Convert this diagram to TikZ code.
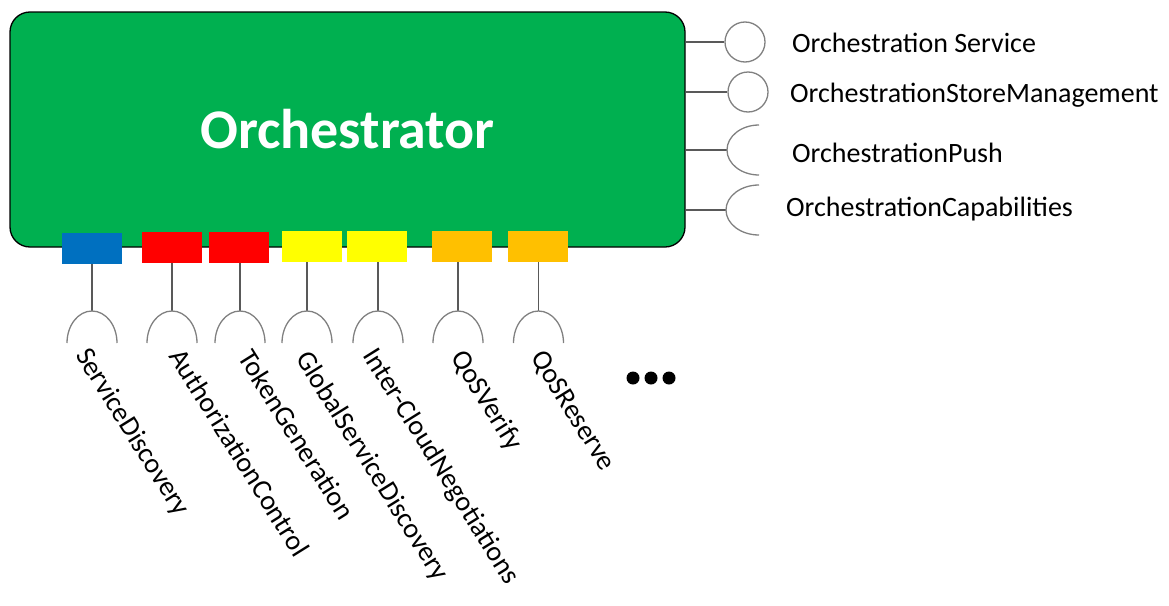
\documentclass[tikz,border=0pt]{standalone}
\usepackage{fontspec}
\setmainfont{Carlito}
\usetikzlibrary{positioning}
\definecolor{orcgreen}{HTML}{00B050}
\definecolor{portblue}{HTML}{0070C0}
\definecolor{portred}{HTML}{FF0000}
\definecolor{portyellow}{HTML}{FFFF00}
\definecolor{portorange}{HTML}{FFC000}
\definecolor{stemgray}{HTML}{595959}
\definecolor{arcgray}{HTML}{808080}
\tikzset{
  port/.style={rectangle, minimum width=60pt, minimum height=31pt, inner sep=0pt},
  ball/.style={circle, draw=arcgray, line width=1.3pt, minimum size=40pt, inner sep=0pt},
  stem/.style={draw=stemgray, line width=1.3pt},
  socketarc/.style={draw=arcgray, line width=1.3pt},
  svclabel/.style={anchor=base west, inner sep=0pt, font=\fontsize{28}{32}\selectfont},
  portlabel/.style={anchor=base west, inner sep=0pt, rotate=-58, font=\fontsize{28}{32}\selectfont}
}
\begin{document}
\begin{tikzpicture}[x=1pt, y=-1pt]
   \useasboundingbox (0,0) rectangle (1169,605);
   \node[draw=black, fill=orcgreen, rounded corners=20pt, line width=1.3pt,
         minimum width=675pt, minimum height=235pt, text=white,
         font=\bfseries\fontsize{56}{60}\selectfont] (orc) at (347.5,129.5) {Orchestrator};
   \node[ball] (b1) at (745,42) {};
   \node[ball] (b2) at (748,92) {};
   \coordinate (c3) at (727,150);
   \coordinate (c4) at (726,210);
   \draw[stem] (orc.east |- b1) -- (b1.west);
   \draw[stem] (orc.east |- b2) -- (b2.west);
   \draw[stem] (orc.east |- c3) -- (c3);
   \draw[stem] (orc.east |- c4) -- (c4);
   \draw[socketarc] (c3) ++(32pt,25pt) arc[start angle=90, end angle=270, x radius=32pt, y radius=25pt];
   \draw[socketarc] (c4) ++(33pt,25pt) arc[start angle=90, end angle=270, x radius=33pt, y radius=25pt];
   \node[svclabel] (l1) at (792,52) {Orchestration Service};
   \node[svclabel] (l2) at (790,102) {OrchestrationStoreManagement};
   \node[svclabel] (l3) at (792,162) {OrchestrationPush};
   \node[svclabel] (l4) at (786,216) {OrchestrationCapabilities};
   \begin{scope}[every node/.style={port}]
    \node (p1) at (92,248.5) [fill=portblue] {};
    \node (p2) at (172,247.5) [fill=portred] {};
    \node (p3) at (239,247.5) [fill=portred] {};
    \node (p4) at (311.5,246.5) [fill=portyellow] {};
    \node (p5) at (377,246.5) [fill=portyellow] {};
    \node (p6) at (462,246.5) [fill=portorange] {};
    \node (p7) at (538,246.5) [fill=portorange] {};
   \end{scope}
   \coordinate (t1) at (92,311);
   \coordinate (t2) at (172,311);
   \coordinate (t3) at (240,311);
   \coordinate (t4) at (307,311);
   \coordinate (t5) at (378,311);
   \coordinate (t6) at (458,311);
   \coordinate (t7) at (538.5,311);
   \foreach \i in {1,...,7} {
    \draw[stem] (t\i |- p\i.south) -- (t\i);
    \draw[socketarc] (t\i) ++(-25pt,-32pt) arc[start angle=180, end angle=0, x radius=25pt, y radius=32pt];
   }
   \node[portlabel] (q1) at (75,355) {ServiceDiscovery};
   \node[portlabel] (q2) at (168,356) {AuthorizationControl};
   \node[portlabel] (q3) at (237,357) {TokenGeneration};
   \node[portlabel] (q4) at (295,358) {GlobalServiceDiscovery};
   \node[portlabel] (q5) at (362,355) {Inter-CloudNegotiations};
   \node[portlabel] (q6) at (450,357) {QoSVerify};
   \node[portlabel] (q7) at (530,357) {QoSReserve};
   \foreach \x in {633,651,669}
    \fill (\x,378) circle (6.5pt);
\end{tikzpicture}
\end{document}
